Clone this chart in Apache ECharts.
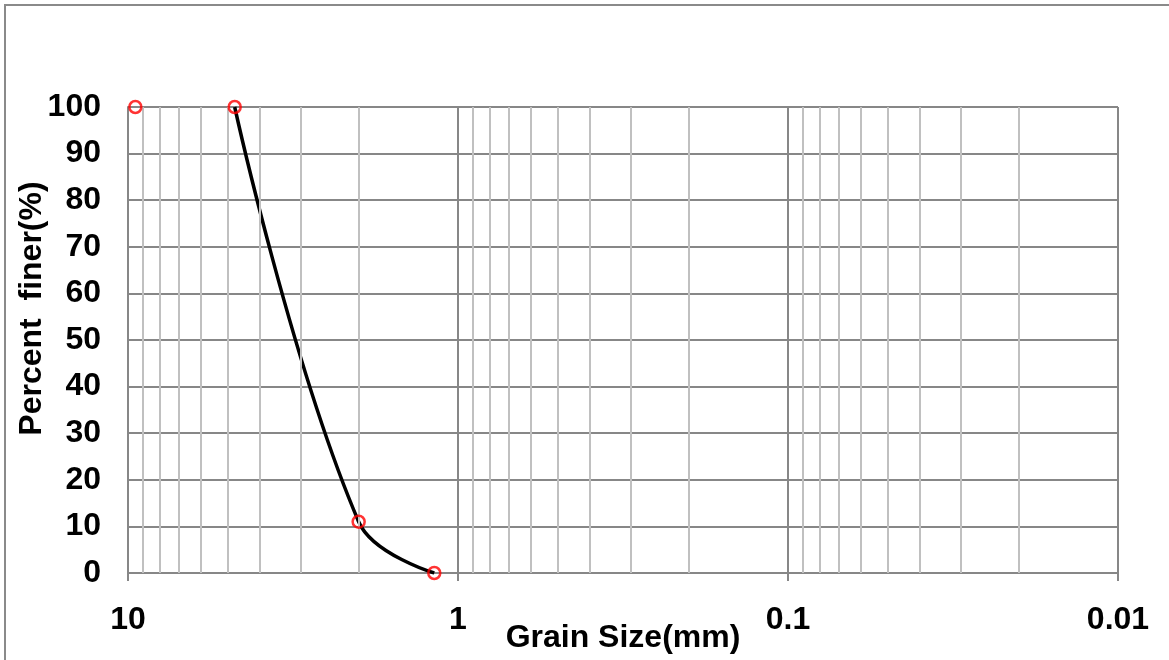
<!DOCTYPE html>
<html>
<head>
<meta charset="utf-8">
<script src="https://cdn.jsdelivr.net/npm/echarts@6/dist/echarts.min.js"></script>
<style>
  html, body { margin: 0; padding: 0; background: #fff; }
  #chart { width: 1169px; height: 660px; }
</style>
</head>
<body>
<div id="chart"></div>
<script>
// sieve data
const grainSize = [9.5, 4.75, 2.0, 1.18]
const percentFiner = [100, 100, 11, 0]
// minor grid positions (2..9 in each decade)
const minorLines = [
  9, 8, 7, 6, 5, 4, 3, 2,
  0.9, 0.8, 0.7, 0.6, 0.5, 0.4, 0.3, 0.2,
  0.09, 0.08, 0.07, 0.06, 0.05, 0.04, 0.03, 0.02
]
const yTicks = { min: 0, max: 100, step: 10 }

const chart = echarts.init(document.getElementById('chart'))
const labelFont = {
  color: '#000',
  fontWeight: 'bold',
  fontSize: 32,
  fontFamily: 'Liberation Sans, Arial, sans-serif'
}

const points = grainSize.map((g, i) => [g, percentFiner[i]])
// the smoothed curve is visible from the second sieve on (flat part is clipped in the original)
const curve = points.slice(1)

const option = {
  backgroundColor: '#fff',
  animation: false,
  graphic: [
    {
      type: 'rect',
      shape: { x: 5, y: 5, width: 1300, height: 800 },
      style: { fill: 'none', stroke: '#8a8a8a', lineWidth: 2 },
      silent: true
    }
  ],
  grid: {
    left: 128,
    right: 51,
    top: 107,
    bottom: 87,
    outerBoundsMode: 'none',
    containLabel: false
  },
  xAxis: {
    type: 'log',
    logBase: 10,
    min: 0.01,
    max: 10,
    inverse: true,
    name: 'Grain Size(mm)',
    nameLocation: 'middle',
    nameGap: 49,
    nameMoveOverlap: false,
    nameTextStyle: labelFont,
    axisLine: { show: true, lineStyle: { color: '#878787', width: 2 } },
    axisTick: { show: true, length: 8, lineStyle: { color: '#878787', width: 2 } },
    axisLabel: Object.assign({ margin: 31 }, labelFont),
    splitLine: { show: true, lineStyle: { color: '#878787', width: 2 } }
  },
  yAxis: {
    type: 'value',
    min: yTicks.min,
    max: yTicks.max,
    interval: yTicks.step,
    name: 'Percent  finer(%)',
    nameLocation: 'middle',
    nameGap: 80,
    nameMoveOverlap: false,
    nameTextStyle: Object.assign({}, labelFont, { padding: [0, 0, 0, 63] }),
    axisLine: { show: true, lineStyle: { color: '#878787', width: 2 } },
    axisTick: { show: false },
    axisLabel: Object.assign({ margin: 27 }, labelFont),
    splitLine: { show: true, lineStyle: { color: '#878787', width: 2 } }
  },
  series: [
    {
      // carrier for minor vertical grid lines
      type: 'line',
      z: 1,
      silent: true,
      data: points,
      symbol: 'none',
      lineStyle: { opacity: 0 },
      markLine: {
        silent: true,
        symbol: ['none', 'none'],
        label: { show: false },
        lineStyle: { color: '#c0c0c0', width: 2, type: 'solid' },
        data: minorLines.map(v => ({ xAxis: v }))
      }
    },
    {
      type: 'line',
      z: 4,
      data: curve,
      smooth: 0.4,
      symbol: 'none',
      lineStyle: { color: '#000', width: 3.5 }
    },
    {
      type: 'scatter',
      z: 5,
      data: points,
      symbol: 'circle',
      symbolSize: 12,
      itemStyle: { color: 'rgba(0,0,0,0)', borderColor: '#ff0000', borderWidth: 2.5 }
    }
  ]
}

chart.setOption(option)
</script>
</body>
</html>
